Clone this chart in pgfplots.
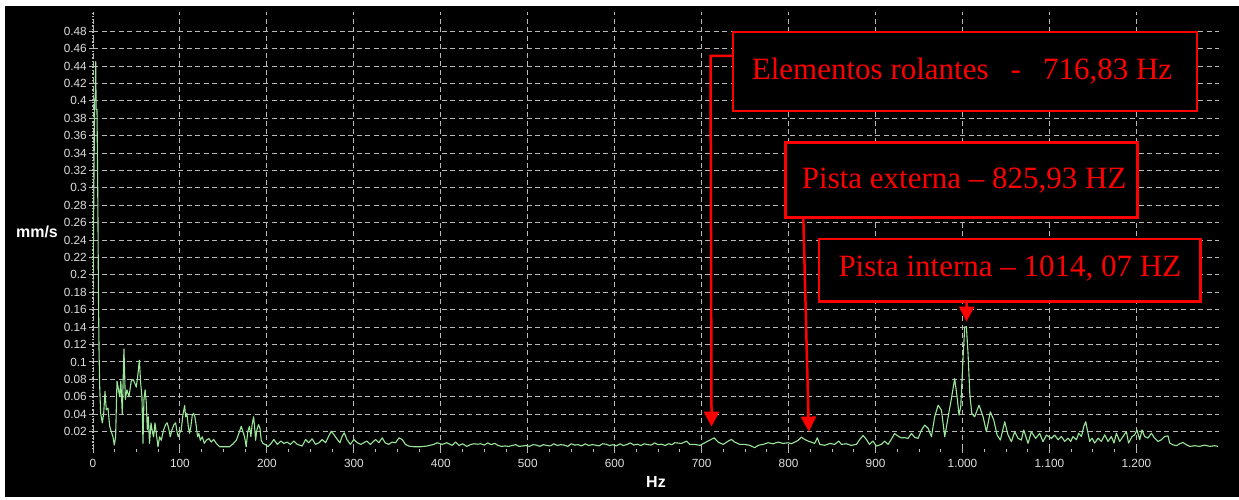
\documentclass[border=0pt]{standalone}
\usepackage{pgfplots}
\pgfplotsset{compat=1.18}
\usepackage{fontspec}
\setmainfont{Liberation Sans}
\newfontfamily\timesfont{Liberation Serif}
\usetikzlibrary{arrows.meta}
\definecolor{spec}{RGB}{155,230,155}
\definecolor{gridc}{RGB}{185,185,185}
\definecolor{labc}{RGB}{222,222,222}
\definecolor{annot}{RGB}{255,0,0}

\pgfplotstableread{
f a
0 0.175
1 0.30
1.9 0.40
2.6 0.405
3.1 0.445
3.6 0.39
4.6 0.39
5.6 0.28
6.3 0.175
7.0 0.109
7.7 0.072
8.8 0.041
10.7 0.03
12.3 0.041
13.8 0.066
15.3 0.045
17.2 0.047
19.2 0.026
21 0.02
23 0.014
24.5 0.0045
26 0.014
27.6 0.078
29 0.07
30.7 0.06
32 0.078
33.7 0.04
35.6 0.115
37.2 0.057
39 0.068
41.4 0.06
44 0.078
46 0.08
47.9 0.076
49.8 0.071
51.7 0.086
53.3 0.102
54.8 0.076
56.3 0.06
57.5 0.0065
58.6 0.057
60 0.068
61.3 0.053
62.5 0.022
63.6 0.037
65 0.0065
66.7 0.03
68.2 0.02
69.7 0.014
71.3 0.03
72.8 0.018
74.7 0.0026
76.6 0.014
78.5 0.01
81.2 0.022
83.5 0.028
85.4 0.03
87.4 0.022
88.9 0.014
90.8 0.022
93.1 0.028
95 0.03
96.6 0.02
98 0.014
99.6 0.018
101.5 0.022
103.4 0.039
105.4 0.05
106.5 0.037
108 0.041
109.6 0.026
111 0.018
112.6 0.026
114.2 0.039
115.7 0.041
117.2 0.037
118.8 0.026
120.3 0.014
121.8 0.018
123.4 0.01
125.7 0.014
128 0.0065
130.3 0.01
133.3 0.012
136 0.008
138.7 0.011
141.8 0.0065
145.6 0.0026
150 0.0026
157 0.0026
161 0.0057
164.8 0.01
167.8 0.018
170.5 0.026
172.4 0.02
174.3 0.014
176.2 0.0026
178 0.02
180 0.026
181.6 0.014
183 0.028
184.7 0.037
185.8 0.026
187 0.01
188.5 0.022
190.4 0.028
192 0.024
193.5 0.01
195.4 0.0065
199.2 0.0045
201 0.0026
204 0.0053
208 0.0109
212 0.0053
216 0.0091
219.6 0.0064
223.4 0.0079
227 0.0053
231 0.0091
235 0.0053
240.6 0.0034
244.5 0.0109
248 0.0072
252 0.0117
256 0.0053
260 0.0072
263.6 0.0109
267.5 0.0072
271 0.0147
274 0.0204
277 0.0166
281 0.0109
284 0.0072
286.6 0.0147
289 0.0185
292 0.0109
296 0.0053
300 0.0109
304 0.0072
308 0.0053
311.5 0.0072
315 0.0091
319 0.0053
325 0.0109
328.8 0.0072
332.6 0.0128
336 0.0072
340 0.0053
344 0.0079
348 0.0072
352 0.0128
355.6 0.0109
359.4 0.0053
363 0.0034
369 0.0026
376.7 0.0026
384 0.0034
392 0.0053
395.8 0.0072
401.6 0.0053
407 0.0072
413 0.0042
417 0.008
421 0.004
425 0.006
430 0.003
434 0.005
438 0.006
442 0.0055
446 0.006
450 0.0045
454 0.007
458 0.005
462 0.0065
466 0.004
470 0.003
474 0.0035
478 0.003
482 0.004
486 0.005
490 0.003
494 0.0035
498 0.004
502 0.003
506 0.005
510 0.0045
514 0.003
518 0.005
522 0.004
526 0.0035
530 0.006
534 0.004
538 0.005
542 0.0045
546 0.003
550 0.006
554 0.0045
558 0.005
562 0.0035
566 0.006
570 0.004
574 0.005
578 0.0045
582 0.0035
586 0.006
590 0.0055
594 0.004
598 0.005
602 0.0035
606 0.006
610 0.004
614 0.005
618 0.007
622 0.0045
626 0.0055
630 0.004
634 0.006
638 0.005
642 0.0045
646 0.007
650 0.005
654 0.0055
658 0.004
662 0.006
666 0.005
669 0.0072
676.9 0.0064
682.6 0.0091
686.4 0.0053
692 0.0053
698 0.0042
703.7 0.0072
709.4 0.0102
714.4 0.0128
719 0.0079
724.8 0.0053
730.5 0.0091
734.3 0.0109
738 0.0079
743.9 0.0053
749.7 0.0053
755.4 0.0042
761 0.0015
765 0.0042
770.7 0.0053
776.5 0.0072
782 0.006
788 0.0079
793.7 0.0064
799.5 0.0072
803.3 0.006
807 0.0079
811 0.0100
814.8 0.0136
818.6 0.0109
822.5 0.0091
826 0.0079
830 0.0064
833 0.0128
835.9 0.0053
841.6 0.0042
847.4 0.0064
853 0.0053
857.7 0.0091
860.8 0.0053
866.5 0.006
872 0.0042
878 0.0053
881.8 0.0109
885.7 0.0155
889.5 0.0109
893 0.0053
897 0.0091
901 0.0034
906.7 0.0053
910.6 0.0091
914.4 0.0053
918 0.0109
922 0.0177
926 0.0147
929.7 0.0128
933.6 0.013
937.5 0.0122
941.3 0.0179
945 0.0134
949 0.0122
952.8 0.0218
956.6 0.0275
960.5 0.0237
964.3 0.0141
968 0.037
972 0.0504
975.8 0.0447
979.6 0.0141
983.5 0.037
987.3 0.058
991 0.0809
993.8 0.0599
996 0.0389
998 0.0485
1000.7 0.1057
1002.6 0.1401
1004.5 0.1405
1006.4 0.1095
1008.4 0.0637
1010.7 0.0408
1014 0.037
1019 0.0504
1023.7 0.037
1027.5 0.0198
1032 0.0427
1036 0.0332
1039.8 0.016
1043.6 0.0103
1048.6 0.0313
1052.4 0.016
1056.3 0.0084
1060 0.0198
1064 0.0122
1067.7 0.0103
1070.4 0.0218
1075.4 0.0065
1079.2 0.0198
1084.2 0.0122
1088.8 0.0179
1092.6 0.0084
1096.5 0.016
1102.2 0.0122
1106 0.016
1110 0.0106
1113.8 0.0143
1117.6 0.0087
1121.4 0.0125
1124.5 0.0087
1127 0.0143
1131 0.0106
1133.7 0.0181
1136.8 0.0143
1139.4 0.0257
1141.7 0.0313
1143.6 0.0219
1146.3 0.0087
1149 0.0125
1152 0.0068
1156 0.0125
1159.7 0.0087
1163.6 0.0162
1167.4 0.0087
1171.2 0.0143
1174.3 0.0068
1177 0.0181
1180.8 0.0087
1184.6 0.0143
1188.5 0.02
1191 0.0068
1195 0.0143
1198 0.0162
1200.7 0.0219
1203.8 0.0106
1206.5 0.0219
1209.5 0.0143
1213.4 0.0125
1217.2 0.0181
1221 0.0125
1224.9 0.0087
1228.7 0.0106
1232.5 0.0143
1236.4 0.0151
1238.3 0.0068
1242 0.0049
1246 0.0038
1249.8 0.006
1253.6 0.0075
1257.4 0.0049
1261.3 0.003
1267 0.0038
1272.8 0.003
1278.5 0.0045
1284.3 0.003
1290 0.0038
1293.8 0.003
}\spectrum

\begin{document}
\begin{tikzpicture}
\begin{scope}[x=1pt,y=1pt]
  \path[use as bounding box] (0,0) rectangle (1239,500);
  \fill[white] (0,0) rectangle (1239,500);
  \fill[black] (5,3) rectangle (1239,494);
\end{scope}

\begin{axis}[
  at={(93pt,51pt)}, anchor=south west,
  scale only axis, width=1126pt, height=437pt,
  xmin=0, xmax=1295, ymin=0, ymax=0.502,
  axis lines=left, axis line style={-},
  x axis line style={draw=none},
  y axis line style={draw=gridc, dotted, line width=1.2pt},
  xtick={0,100,200,300,400,500,600,700,800,900,1000,1100,1200},
  xticklabels={0,100,200,300,400,500,600,700,800,900,1.000,1.100,1.200},
  minor x tick num=3,
  ytick={0.02,0.04,0.06,0.08,0.1,0.12,0.14,0.16,0.18,0.2,0.22,0.24,0.26,0.28,0.3,0.32,0.34,0.36,0.38,0.4,0.42,0.44,0.46,0.48},
  yticklabels={0.02,0.04,0.06,0.08,0.1,0.12,0.14,0.16,0.18,0.2,0.22,0.24,0.26,0.28,0.3,0.32,0.34,0.36,0.38,0.4,0.42,0.44,0.46,0.48},
  grid=major,
  major grid style={gridc, dash pattern=on 5pt off 3.5pt, line width=0.9pt},
  tick align=outside,
  major tick length=4pt, minor tick length=3pt,
  every tick/.style={gridc, line width=0.9pt},
  ticklabel style={font=\fontsize{11.8}{13}\selectfont, text=labc, inner sep=0pt},
  xticklabel style={yshift=-6pt},
  yticklabel style={xshift=-2pt},
  xlabel={Hz},
  xlabel style={font=\bfseries\fontsize{16}{18}\selectfont, text=white,
    at={(axis description cs:0.5,0)}, anchor=center, yshift=-33pt},
]
\addplot[spec, line width=1.1pt, line join=round] table[x=f, y=a] {\spectrum};
\coordinate (t1) at (axis cs:711.4,0.0257);
\coordinate (t2) at (axis cs:823.3,0.0200);
\coordinate (t3) at (axis cs:1004.6,0.1463);
\end{axis}

\begin{scope}[x=1pt,y=1pt]
  \node[font=\bfseries\fontsize{16}{18}\selectfont, text=white] at (37,268) {mm/s};
\end{scope}

\begin{scope}[x=1pt,y=1pt, every node/.style={font=\timesfont\fontsize{31}{36}\selectfont, text=annot, inner sep=0pt, anchor=base west}]
  \draw[annot, line width=2.5pt, fill=black] (733,468) rectangle (1197,389);
  \node at (751.7,420) {Elementos rolantes\hspace{22pt}-\hspace{22pt}716,83 Hz};
  \draw[annot, line width=2.5pt, fill=black] (785.7,357.3) rectangle (1137.3,282.7);
  \node at (801.7,311.7) {Pista externa – 825,93 HZ};
  \draw[annot, line width=2.5pt, fill=black] (819,261) rectangle (1200.7,198.3);
  \node at (838.3,223.3) {Pista interna – 1014, 07 HZ};
  \draw[annot, line width=2.5pt, -{Triangle[width=15pt,length=15pt]}]
    (733,444) -- (710.5,444) -- (t1);
  \draw[annot, line width=2.5pt, -{Triangle[width=15pt,length=15pt]}]
    (803.3,282.7) -- (t2);
  \draw[annot, line width=2.5pt, -{Triangle[width=15pt,length=15pt]}]
    (966.7,198.3) -- (t3);
\end{scope}
\end{tikzpicture}
\end{document}
